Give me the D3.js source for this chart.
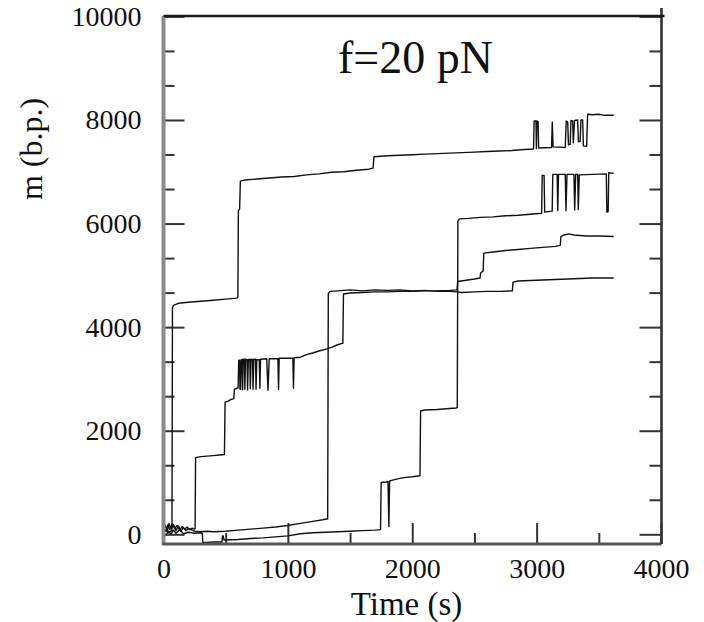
<!DOCTYPE html>
<html>
<head>
<meta charset="utf-8">
<script src="https://cdn.jsdelivr.net/npm/d3@7"></script>
<style>
  body { margin: 0; background: #fff; }
  svg { display: block; }
  text { font-family: "Liberation Serif", "Times New Roman", serif; fill: #111; }
</style>
</head>
<body>
<div id="chart"></div>
<script>
// Axis ticks
const xTicks = [0, 1000, 2000, 3000, 4000];
const xMinorTicks = [500, 1500, 2500, 3500];
const yTicks = [0, 2000, 4000, 6000, 8000, 10000];

// Four traces, [time (s), m (b.p.)]
const traceA = [
  [0, 40], [20, 80], [40, 30], [60, 60], [68, 70], [72, 4380], [80, 4420], [120, 4460], [200, 4480],
  [300, 4500], [400, 4520], [500, 4540], [590, 4560], [598, 4580], [602, 6250], [612, 6280], [618, 6820],
  [650, 6840], [750, 6860], [850, 6880], [950, 6900], [1050, 6910], [1150, 6940], [1250, 6960],
  [1350, 6990], [1450, 7000], [1550, 7030], [1650, 7050], [1685, 7070], [1692, 7290], [1800, 7310],
  [1900, 7320], [2000, 7330], [2100, 7340], [2200, 7350], [2300, 7360], [2400, 7370], [2500, 7380],
  [2600, 7390], [2700, 7400], [2800, 7410], [2900, 7430], [2975, 7440],
  [2980, 7980], [2995, 7980], [2998, 7450], [3002, 7980], [3012, 7970], [3016, 7460], [3120, 7470],
  [3126, 7960], [3132, 7480], [3230, 7470], [3238, 7980], [3250, 7960], [3256, 7520], [3270, 7530],
  [3276, 7990], [3290, 7980], [3295, 7560], [3305, 7990], [3330, 8000], [3336, 7580], [3350, 7590],
  [3356, 8000], [3370, 8000], [3376, 7500], [3402, 7490], [3410, 8110], [3450, 8100], [3500, 8110],
  [3550, 8090], [3620, 8090]
];

const traceB = [
  [0, 120], [20, 60], [35, 180], [50, 90], [70, 200], [90, 110], [110, 170], [130, 80], [150, 150],
  [170, 100], [190, 140], [210, 90], [230, 120], [250, 100], [254, 110], [258, 1480], [300, 1500],
  [350, 1510], [400, 1520], [450, 1530], [490, 1540], [495, 2550], [520, 2570], [540, 2600],
  [565, 2620], [570, 2800], [600, 2830], [605, 3360], [612, 3360], [615, 2800], [620, 2800],
  [624, 3370], [632, 3370], [636, 2790], [640, 3380], [650, 3380], [654, 2800], [660, 3380],
  [672, 3370], [676, 2790], [682, 3370], [694, 3380], [698, 2810], [704, 3380], [716, 3370],
  [720, 2800], [726, 3380], [740, 3380], [744, 2800], [750, 3370], [770, 3370], [775, 2820],
  [780, 3380], [830, 3390], [840, 2780], [850, 3390], [920, 3390], [925, 2800], [930, 3400],
  [1040, 3400], [1045, 2820], [1050, 3410], [1100, 3420], [1150, 3470], [1200, 3500], [1250, 3540],
  [1300, 3570], [1350, 3610], [1400, 3660], [1442, 3690], [1447, 4640], [1500, 4660], [1600, 4670],
  [1700, 4680], [1800, 4680], [1900, 4690], [2000, 4690], [2100, 4700], [2200, 4700], [2300, 4710],
  [2360, 4720], [2365, 4880], [2420, 4900], [2500, 4930], [2545, 4950], [2550, 5050], [2570, 5080],
  [2575, 5430], [2650, 5450], [2750, 5480], [2850, 5500], [2950, 5520], [3050, 5540], [3150, 5560],
  [3190, 5580], [3195, 5750], [3220, 5780], [3260, 5800], [3300, 5780], [3400, 5760], [3500, 5760],
  [3620, 5750]
];

const traceC = [
  [0, 90], [15, 170], [30, 60], [45, 210], [60, 100], [80, 190], [100, 70], [120, 160], [140, 60],
  [160, 130], [180, 70], [200, 110], [250, 60], [300, 50], [350, 60], [400, 50], [500, 60], [600, 80],
  [700, 100], [800, 120], [900, 140], [1000, 170], [1100, 210], [1200, 250], [1280, 280], [1320, 300],
  [1325, 4650], [1340, 4690], [1400, 4700], [1500, 4720], [1600, 4700], [1700, 4720], [1800, 4710],
  [1900, 4720], [2000, 4700], [2100, 4710], [2200, 4690], [2300, 4690], [2360, 4680], [2400, 4670],
  [2500, 4680], [2600, 4690], [2700, 4690], [2805, 4700], [2810, 4870], [2850, 4890], [2950, 4900],
  [3050, 4910], [3150, 4920], [3250, 4930], [3350, 4940], [3450, 4950], [3550, 4950], [3620, 4950]
];

const traceD = [
  [0, 30], [20, -20], [40, 60], [60, 0], [80, 80], [100, 20], [130, 90], [160, 10], [200, 40],
  [250, 20], [300, 30], [312, 20], [316, -160], [400, -150], [470, -150], [474, -30], [480, -30],
  [486, -110], [600, -100], [700, -80], [800, -70], [900, -50], [1000, -30], [1100, 10], [1200, 30],
  [1300, 40], [1400, 50], [1500, 60], [1600, 70], [1700, 80], [1745, 90], [1750, 1000], [1790, 1010],
  [1805, 1020], [1812, 150], [1818, 1030], [1850, 1050], [1900, 1080], [1950, 1100], [2000, 1110],
  [2062, 1130], [2067, 2380], [2100, 2400], [2200, 2410], [2300, 2430], [2355, 2440], [2362, 2450],
  [2367, 6050], [2380, 6090], [2450, 6100], [2550, 6120], [2650, 6130], [2750, 6150], [2850, 6160],
  [2950, 6180], [3040, 6200], [3045, 6930], [3060, 6930], [3065, 6220], [3125, 6240], [3130, 6950],
  [3165, 6950], [3170, 6250], [3176, 6950], [3230, 6950], [3236, 6250], [3244, 6950], [3300, 6950],
  [3306, 6260], [3314, 6950], [3330, 6950], [3335, 6270], [3343, 6940], [3560, 6960], [3565, 6220],
  [3575, 6230], [3580, 6980], [3620, 6970]
];

const traces = [traceA, traceB, traceC, traceD];

// Layout
const width = 704, height = 622;
const frame = {left: 163.5, right: 661.5, top: 16, bottom: 544};

const svg = d3.select("#chart")
  .append("svg")
  .attr("width", width)
  .attr("height", height);

const x = d3.scaleLinear().domain([0, 4000]).range([163.5, 661]);
const y = d3.scaleLinear().domain([0, 10000]).range([534.3, 16.4]);
const yMinorTicks = d3.range(0, 10000, 2000 / 3).filter((d, i) => i % 3 !== 0);

function styleTicks(g) {
  g.select(".domain").remove();
  g.selectAll(".tick line").attr("stroke", "#333").attr("stroke-width", 2);
  g.selectAll(".tick text").style("font-size", "28px").attr("fill", "#111");
}

// Left axis
svg.append("g")
  .attr("transform", `translate(${frame.left},0)`)
  .call(d3.axisLeft(y).tickValues(yTicks).tickSize(-21).tickSizeOuter(0).tickPadding(22).tickFormat(d3.format("d")))
  .call(styleTicks);
svg.append("g")
  .attr("transform", `translate(${frame.left},0)`)
  .call(d3.axisLeft(y).tickValues(yMinorTicks).tickSize(-11).tickSizeOuter(0).tickFormat(""))
  .call(styleTicks);

// Right axis
svg.append("g")
  .attr("transform", `translate(${frame.right},0)`)
  .call(d3.axisRight(y).tickValues(yTicks).tickSize(-22).tickSizeOuter(0).tickFormat(""))
  .call(styleTicks);
svg.append("g")
  .attr("transform", `translate(${frame.right},0)`)
  .call(d3.axisRight(y).tickValues(yMinorTicks).tickSize(-12).tickSizeOuter(0).tickFormat(""))
  .call(styleTicks);

// Bottom axis
svg.append("g")
  .attr("transform", `translate(0,${frame.bottom})`)
  .call(d3.axisBottom(x).tickValues(xTicks).tickSize(-21).tickSizeOuter(0).tickPadding(14).tickFormat(d3.format("d")))
  .call(styleTicks);
svg.append("g")
  .attr("transform", `translate(0,${frame.bottom})`)
  .call(d3.axisBottom(x).tickValues(xMinorTicks).tickSize(-11).tickSizeOuter(0).tickFormat(""))
  .call(styleTicks);

// Traces
const line = d3.line()
  .x(d => x(d[0]))
  .y(d => y(d[1]));

svg.append("g")
  .selectAll("path")
  .data(traces)
  .enter()
  .append("path")
  .attr("d", line)
  .attr("fill", "none")
  .attr("stroke", "#111")
  .attr("stroke-width", 1.4)
  .attr("stroke-linejoin", "round");

// Frame
svg.append("line")
  .attr("x1", frame.left).attr("x2", frame.left)
  .attr("y1", frame.top).attr("y2", frame.bottom + 1)
  .attr("stroke", "#8a8a8a").attr("stroke-width", 4);
svg.append("line")
  .attr("x1", frame.left - 1).attr("x2", frame.right)
  .attr("y1", frame.bottom).attr("y2", frame.bottom)
  .attr("stroke", "#555").attr("stroke-width", 3);
svg.append("line")
  .attr("x1", frame.right).attr("x2", frame.right)
  .attr("y1", 8).attr("y2", frame.bottom)
  .attr("stroke", "#333").attr("stroke-width", 2.6);
svg.append("line")
  .attr("x1", frame.left).attr("x2", frame.right + 3)
  .attr("y1", frame.top).attr("y2", frame.top)
  .attr("stroke", "#1a1a1a").attr("stroke-width", 2.4);

// Labels
svg.append("text")
  .attr("x", 406.5)
  .attr("y", 615)
  .attr("text-anchor", "middle")
  .style("font-size", "33px")
  .text("Time (s)");

svg.append("text")
  .attr("transform", "translate(42,149) rotate(-90)")
  .attr("text-anchor", "middle")
  .style("font-size", "32px")
  .text("m (b.p.)");

svg.append("text")
  .attr("x", 338)
  .attr("y", 73)
  .style("font-size", "46px")
  .text("f=20 pN");
</script>
</body>
</html>
